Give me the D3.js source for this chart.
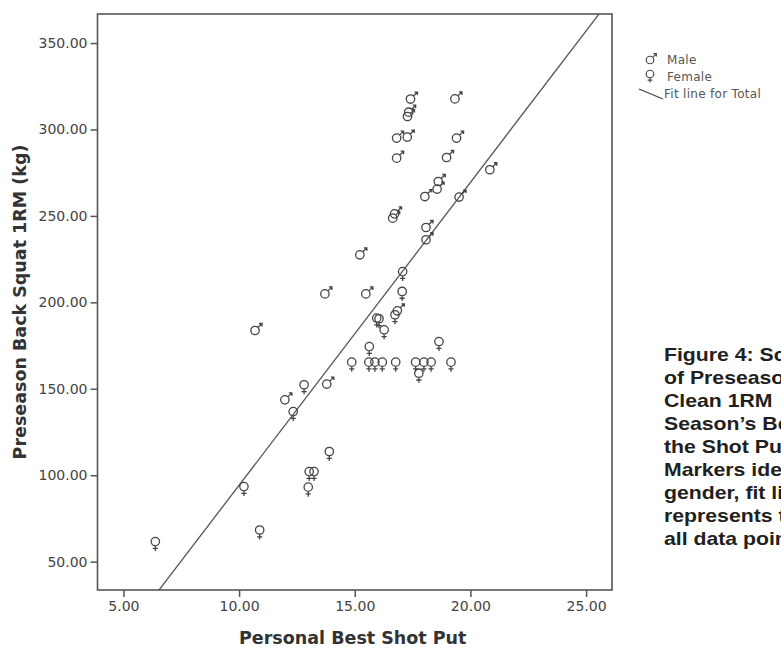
<!DOCTYPE html>
<html>
<head>
<meta charset="utf-8">
<script src="https://cdn.jsdelivr.net/npm/d3@7"></script>
<style>
  body { margin: 0; background: #fff; overflow: hidden; }
  svg { display: block; }
</style>
</head>
<body>
<script>
// shot put (m) vs back squat (kg)
const maleShot  = [17.41, 19.33, 17.28, 17.33, 16.81, 17.27, 19.40, 16.81, 18.97, 20.84, 18.61, 18.56, 18.03, 19.51, 16.64, 16.72, 18.08, 18.08, 15.22, 13.71, 15.48, 10.69, 11.98, 13.79, 16.84]
const maleSquat = [317.6, 317.7, 307.5, 310.0, 295.0, 295.6, 295.0, 283.4, 283.8, 276.7, 269.9, 265.5, 261.2, 260.9, 248.7, 251.2, 243.3, 236.2, 227.5, 204.9, 204.9, 183.7, 143.6, 152.7, 195.1]

const femaleShot  = [17.07, 17.05, 16.74, 15.95, 16.05, 16.27, 18.64, 15.63, 14.87, 15.61, 15.87, 16.19, 16.77, 17.63, 17.99, 18.30, 19.16, 17.77, 12.81, 13.90, 13.03, 13.24, 12.99, 10.21, 12.34, 6.38, 10.89]
const femaleSquat = [217.8, 206.3, 192.8, 190.9, 190.5, 184.1, 177.3, 174.4, 165.4, 165.4, 165.4, 165.4, 165.4, 165.4, 165.4, 165.4, 165.4, 159.0, 152.3, 113.7, 102.1, 102.1, 93.1, 93.4, 136.8, 61.6, 68.3]

// fit line for total: squat = a + b * shot
const fitIntercept = -81.0
const fitSlope = 17.52

const xTicks = [5, 10, 15, 20, 25]
const yTicks = [50, 100, 150, 200, 250, 300, 350]

const legendItems = ['Male', 'Female', 'Fit line for Total']

const captionLines = [
  'Figure 4: Scatterplot',
  'of Preseason Power',
  'Clean 1RM  and',
  'Season\u2019s Best for',
  'the Shot Put.',
  'Markers identify',
  'gender, fit line',
  'represents the fit for',
  'all data points.'
]

const width = 781
const height = 648
const plotL = 97.5, plotR = 612, plotT = 14, plotB = 590
const ink = '#444'

const svg = d3.select('body').append('svg')
  .attr('width', width)
  .attr('height', height)

var x = d3.scaleLinear().domain([3.88, 26.12]).range([plotL, plotR])
var y = d3.scaleLinear().domain([33.6, 366.8]).range([plotB, plotT])

const malePath = 'M4.2,0A4.2,4.2 0 1,1 -4.2,0A4.2,4.2 0 1,1 4.2,0M3,-3L7,-7M4,-7L7,-7L7,-4'
const femalePath = 'M4.2,0A4.2,4.2 0 1,1 -4.2,0A4.2,4.2 0 1,1 4.2,0M0,4.2L0,9.5M-2.6,6.8L2.6,6.8'

// axes
var xAxis = d3.axisBottom(x).tickValues(xTicks).tickFormat(d3.format('.2f')).tickSize(7).tickPadding(4)
var yAxis = d3.axisLeft(y).tickValues(yTicks).tickFormat(d3.format('.2f')).tickSize(7).tickPadding(3)

var gX = svg.append('g')
  .attr('transform', 'translate(0,' + plotB + ')')
  .call(xAxis)
var gY = svg.append('g')
  .attr('transform', 'translate(' + plotL + ',0)')
  .call(yAxis)

;[gX, gY].forEach(g => {
  g.select('.domain').remove()
  g.selectAll('line').attr('stroke', '#555').attr('stroke-width', 1.5)
  g.selectAll('text')
    .attr('fill', ink)
    .style('font-family', 'DejaVu Sans, sans-serif')
    .style('font-size', '14px')
})

svg.append('rect')
  .attr('x', plotL).attr('y', plotT)
  .attr('width', plotR - plotL).attr('height', plotB - plotT)
  .attr('fill', 'none')
  .attr('stroke', '#555')
  .attr('stroke-width', 1.6)

// titles
svg.append('text')
  .attr('x', (plotL + plotR) / 2 - 2)
  .attr('y', 644)
  .attr('text-anchor', 'middle')
  .attr('fill', '#333')
  .style('font-family', 'DejaVu Sans, sans-serif')
  .style('font-weight', 'bold')
  .style('font-size', '17.5px')
  .text('Personal Best Shot Put')

svg.append('text')
  .attr('transform', 'translate(26,' + (plotT + plotB) / 2 + ') rotate(-90)')
  .attr('text-anchor', 'middle')
  .attr('fill', '#333')
  .style('font-family', 'DejaVu Sans, sans-serif')
  .style('font-weight', 'bold')
  .style('font-size', '17.5px')
  .text('Preseason Back Squat 1RM (kg)')

// fit line, clipped to the frame
svg.append('clipPath').attr('id', 'plot-clip')
  .append('rect')
  .attr('x', plotL).attr('y', plotT)
  .attr('width', plotR - plotL).attr('height', plotB - plotT)

var xs = x.domain()
svg.append('line')
  .attr('clip-path', 'url(#plot-clip)')
  .attr('x1', x(xs[0])).attr('y1', y(fitIntercept + fitSlope * xs[0]))
  .attr('x2', x(xs[1])).attr('y2', y(fitIntercept + fitSlope * xs[1]))
  .attr('stroke', '#555')
  .attr('stroke-width', 1.3)

// points
var females = femaleShot.map((d, i) => [d, femaleSquat[i]])
var males = maleShot.map((d, i) => [d, maleSquat[i]])

svg.selectAll('path.female')
  .data(females)
  .enter()
  .append('path')
  .attr('class', 'female')
  .attr('d', femalePath)
  .attr('transform', d => 'translate(' + x(d[0]) + ',' + y(d[1]) + ')')
  .attr('fill', 'none')
  .attr('stroke', ink)
  .attr('stroke-width', 1.3)

svg.selectAll('path.male')
  .data(males)
  .enter()
  .append('path')
  .attr('class', 'male')
  .attr('d', malePath)
  .attr('transform', d => 'translate(' + x(d[0]) + ',' + y(d[1]) + ')')
  .attr('fill', 'none')
  .attr('stroke', ink)
  .attr('stroke-width', 1.3)

// legend
var legend = svg.append('g').attr('id', 'legend')
legend.append('path')
  .attr('d', malePath)
  .attr('transform', 'translate(650,60) scale(0.9)')
  .attr('fill', 'none').attr('stroke', ink).attr('stroke-width', 1.3)
legend.append('path')
  .attr('d', femalePath)
  .attr('transform', 'translate(650,74) scale(0.9)')
  .attr('fill', 'none').attr('stroke', ink).attr('stroke-width', 1.3)
legend.append('line')
  .attr('x1', 639).attr('y1', 89).attr('x2', 663).attr('y2', 99)
  .attr('stroke', ink).attr('stroke-width', 1.2)

legend.selectAll('text')
  .data(legendItems)
  .enter()
  .append('text')
  .attr('x', (d, i) => i == 2 ? 664 : 667)
  .attr('y', (d, i) => 63.5 + i * 17)
  .attr('fill', '#555')
  .style('font-family', 'DejaVu Sans, sans-serif')
  .style('font-size', '12px')
  .style('letter-spacing', '0.3px')
  .text(d => d)

// caption, runs off the right edge like the source
svg.append('g')
  .attr('transform', 'translate(664,0) scale(1.18,1)')
  .selectAll('text')
  .data(captionLines)
  .enter()
  .append('text')
  .attr('x', 0)
  .attr('y', (d, i) => 361 + i * 23)
  .attr('fill', '#231f20')
  .style('font-family', 'Liberation Sans, Arial, sans-serif')
  .style('font-weight', 'bold')
  .style('font-size', '18px')
  .style('white-space', 'pre')
  .text(d => d)
</script>
</body>
</html>
